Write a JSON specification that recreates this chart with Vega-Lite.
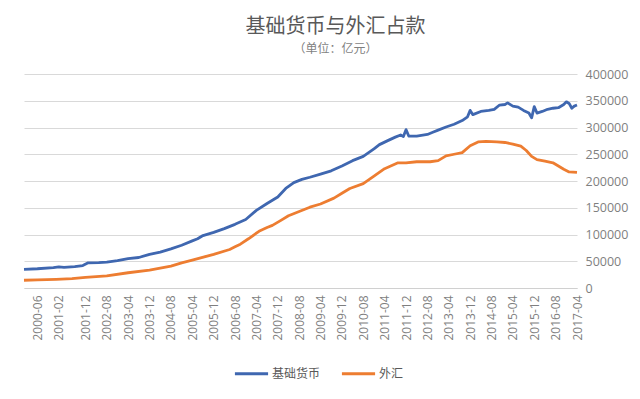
{
  "$schema": "https://vega.github.io/schema/vega-lite/v6.json",
  "autosize": {"type": "none"},
  "width": 553,
  "height": 214,
  "padding": {"left": 24, "top": 74, "right": 63, "bottom": 111},
  "background": "white",
  "title": {
    "text": "基础货币与外汇占款",
    "subtitle": "（单位：亿元）",
    "anchor": "middle",
    "dx": 35,
    "offset": 13,
    "font": "Noto Sans CJK SC",
    "fontSize": 20,
    "fontWeight": "normal",
    "color": "#595959",
    "subtitleFont": "Noto Sans CJK SC",
    "subtitleFontSize": 12,
    "subtitleColor": "#7f7f7f",
    "subtitlePadding": 7
  },
  "data": {
    "values": [
      {"d": "2000-01", "s": "基础货币", "v": 35000},
      {"d": "2000-06", "s": "基础货币", "v": 36000},
      {"d": "2000-12", "s": "基础货币", "v": 38000},
      {"d": "2001-02", "s": "基础货币", "v": 39500},
      {"d": "2001-04", "s": "基础货币", "v": 38500},
      {"d": "2001-08", "s": "基础货币", "v": 40000},
      {"d": "2001-11", "s": "基础货币", "v": 42000},
      {"d": "2002-01", "s": "基础货币", "v": 47000},
      {"d": "2002-05", "s": "基础货币", "v": 47500},
      {"d": "2002-08", "s": "基础货币", "v": 48500},
      {"d": "2002-12", "s": "基础货币", "v": 51000},
      {"d": "2003-04", "s": "基础货币", "v": 55000},
      {"d": "2003-08", "s": "基础货币", "v": 57000},
      {"d": "2003-12", "s": "基础货币", "v": 63000},
      {"d": "2004-04", "s": "基础货币", "v": 67000},
      {"d": "2004-08", "s": "基础货币", "v": 73000},
      {"d": "2004-12", "s": "基础货币", "v": 80000},
      {"d": "2005-04", "s": "基础货币", "v": 88000},
      {"d": "2005-06", "s": "基础货币", "v": 92000},
      {"d": "2005-08", "s": "基础货币", "v": 98000},
      {"d": "2005-12", "s": "基础货币", "v": 104000},
      {"d": "2006-04", "s": "基础货币", "v": 111000},
      {"d": "2006-08", "s": "基础货币", "v": 119000},
      {"d": "2006-12", "s": "基础货币", "v": 128000},
      {"d": "2007-04", "s": "基础货币", "v": 145000},
      {"d": "2007-08", "s": "基础货币", "v": 158000},
      {"d": "2007-12", "s": "基础货币", "v": 170000},
      {"d": "2008-03", "s": "基础货币", "v": 186000},
      {"d": "2008-06", "s": "基础货币", "v": 197000},
      {"d": "2008-09", "s": "基础货币", "v": 203000},
      {"d": "2008-12", "s": "基础货币", "v": 207000},
      {"d": "2009-04", "s": "基础货币", "v": 213000},
      {"d": "2009-08", "s": "基础货币", "v": 219000},
      {"d": "2009-12", "s": "基础货币", "v": 228000},
      {"d": "2010-04", "s": "基础货币", "v": 238000},
      {"d": "2010-08", "s": "基础货币", "v": 246000},
      {"d": "2010-12", "s": "基础货币", "v": 260000},
      {"d": "2011-02", "s": "基础货币", "v": 268000},
      {"d": "2011-05", "s": "基础货币", "v": 275000},
      {"d": "2011-08", "s": "基础货币", "v": 282000},
      {"d": "2011-10", "s": "基础货币", "v": 286000},
      {"d": "2011-11", "s": "基础货币", "v": 283000},
      {"d": "2011-12", "s": "基础货币", "v": 296000},
      {"d": "2012-01", "s": "基础货币", "v": 284000},
      {"d": "2012-04", "s": "基础货币", "v": 284000},
      {"d": "2012-08", "s": "基础货币", "v": 287000},
      {"d": "2012-10", "s": "基础货币", "v": 291000},
      {"d": "2012-12", "s": "基础货币", "v": 295000},
      {"d": "2013-03", "s": "基础货币", "v": 301000},
      {"d": "2013-06", "s": "基础货币", "v": 306000},
      {"d": "2013-09", "s": "基础货币", "v": 313000},
      {"d": "2013-11", "s": "基础货币", "v": 320000},
      {"d": "2013-12", "s": "基础货币", "v": 332000},
      {"d": "2014-01", "s": "基础货币", "v": 324000},
      {"d": "2014-04", "s": "基础货币", "v": 330000},
      {"d": "2014-07", "s": "基础货币", "v": 332000},
      {"d": "2014-09", "s": "基础货币", "v": 334000},
      {"d": "2014-11", "s": "基础货币", "v": 342000},
      {"d": "2015-01", "s": "基础货币", "v": 343000},
      {"d": "2015-02", "s": "基础货币", "v": 346000},
      {"d": "2015-04", "s": "基础货币", "v": 340000},
      {"d": "2015-06", "s": "基础货币", "v": 338000},
      {"d": "2015-08", "s": "基础货币", "v": 332000},
      {"d": "2015-10", "s": "基础货币", "v": 327000},
      {"d": "2015-11", "s": "基础货币", "v": 318000},
      {"d": "2015-12", "s": "基础货币", "v": 339000},
      {"d": "2016-01", "s": "基础货币", "v": 327000},
      {"d": "2016-03", "s": "基础货币", "v": 330000},
      {"d": "2016-05", "s": "基础货币", "v": 334000},
      {"d": "2016-07", "s": "基础货币", "v": 336000},
      {"d": "2016-09", "s": "基础货币", "v": 337000},
      {"d": "2016-11", "s": "基础货币", "v": 343000},
      {"d": "2016-12", "s": "基础货币", "v": 348000},
      {"d": "2017-01", "s": "基础货币", "v": 345000},
      {"d": "2017-02", "s": "基础货币", "v": 336000},
      {"d": "2017-03", "s": "基础货币", "v": 340000},
      {"d": "2017-04", "s": "基础货币", "v": 342000},
      {"d": "2000-01", "s": "外汇", "v": 14500},
      {"d": "2000-06", "s": "外汇", "v": 15000},
      {"d": "2001-01", "s": "外汇", "v": 16000},
      {"d": "2001-07", "s": "外汇", "v": 17500},
      {"d": "2001-12", "s": "外汇", "v": 20000},
      {"d": "2002-08", "s": "外汇", "v": 22500},
      {"d": "2003-04", "s": "外汇", "v": 28500},
      {"d": "2003-12", "s": "外汇", "v": 33500},
      {"d": "2004-08", "s": "外汇", "v": 41000},
      {"d": "2004-12", "s": "外汇", "v": 47000},
      {"d": "2005-04", "s": "外汇", "v": 52000},
      {"d": "2005-12", "s": "外汇", "v": 63000},
      {"d": "2006-06", "s": "外汇", "v": 72000},
      {"d": "2006-08", "s": "外汇", "v": 77000},
      {"d": "2006-10", "s": "外汇", "v": 82000},
      {"d": "2007-01", "s": "外汇", "v": 92000},
      {"d": "2007-05", "s": "外汇", "v": 106000},
      {"d": "2007-08", "s": "外汇", "v": 113000},
      {"d": "2007-10", "s": "外汇", "v": 117000},
      {"d": "2008-01", "s": "外汇", "v": 126000},
      {"d": "2008-04", "s": "外汇", "v": 135000},
      {"d": "2008-08", "s": "外汇", "v": 143000},
      {"d": "2008-12", "s": "外汇", "v": 151000},
      {"d": "2009-04", "s": "外汇", "v": 157000},
      {"d": "2009-09", "s": "外汇", "v": 168000},
      {"d": "2009-12", "s": "外汇", "v": 177000},
      {"d": "2010-03", "s": "外汇", "v": 186000},
      {"d": "2010-08", "s": "外汇", "v": 195000},
      {"d": "2010-12", "s": "外汇", "v": 209000},
      {"d": "2011-04", "s": "外汇", "v": 223000},
      {"d": "2011-09", "s": "外汇", "v": 234000},
      {"d": "2011-12", "s": "外汇", "v": 234000},
      {"d": "2012-04", "s": "外汇", "v": 236000},
      {"d": "2012-09", "s": "外汇", "v": 236000},
      {"d": "2012-12", "s": "外汇", "v": 238000},
      {"d": "2013-03", "s": "外汇", "v": 247000},
      {"d": "2013-06", "s": "外汇", "v": 250000},
      {"d": "2013-09", "s": "外汇", "v": 253000},
      {"d": "2013-12", "s": "外汇", "v": 266000},
      {"d": "2014-03", "s": "外汇", "v": 273000},
      {"d": "2014-06", "s": "外汇", "v": 274000},
      {"d": "2014-10", "s": "外汇", "v": 273000},
      {"d": "2015-01", "s": "外汇", "v": 272000},
      {"d": "2015-04", "s": "外汇", "v": 269000},
      {"d": "2015-07", "s": "外汇", "v": 265000},
      {"d": "2015-09", "s": "外汇", "v": 257000},
      {"d": "2015-11", "s": "外汇", "v": 246000},
      {"d": "2016-01", "s": "外汇", "v": 240000},
      {"d": "2016-04", "s": "外汇", "v": 237000},
      {"d": "2016-07", "s": "外汇", "v": 234000},
      {"d": "2016-09", "s": "外汇", "v": 228000},
      {"d": "2016-11", "s": "外汇", "v": 222000},
      {"d": "2017-01", "s": "外汇", "v": 217000},
      {"d": "2017-04", "s": "外汇", "v": 216000}
    ],
    "format": {"parse": {"d": "utc:'%Y-%m'"}}
  },
  "mark": {"type": "line", "strokeWidth": 2.8, "strokeJoin": "round"},
  "encoding": {
    "x": {
      "field": "d",
      "type": "temporal",
      "scale": {"type": "utc", "domain": [{"year": 2000, "month": 1, "utc": true}, {"year": 2017, "month": 4, "utc": true}]},
      "axis": {
        "title": null,
        "format": "%Y-%m",
        "labelAngle": 270,
        "labelFont": "Open Sans",
        "labelFontSize": 12,
        "labelColor": "#7f7f7f",
        "labelPadding": 7,
        "ticks": false,
        "grid": false,
        "domainColor": "#d0d0d0",
        "labelOverlap": false,
        "values": [
          {"year": 2000, "month": 6, "utc": true}, {"year": 2001, "month": 2, "utc": true}, {"year": 2001, "month": 12, "utc": true},
          {"year": 2002, "month": 8, "utc": true}, {"year": 2003, "month": 4, "utc": true}, {"year": 2003, "month": 12, "utc": true},
          {"year": 2004, "month": 8, "utc": true}, {"year": 2005, "month": 4, "utc": true}, {"year": 2005, "month": 12, "utc": true},
          {"year": 2006, "month": 8, "utc": true}, {"year": 2007, "month": 4, "utc": true}, {"year": 2007, "month": 12, "utc": true},
          {"year": 2008, "month": 8, "utc": true}, {"year": 2009, "month": 4, "utc": true}, {"year": 2009, "month": 12, "utc": true},
          {"year": 2010, "month": 8, "utc": true}, {"year": 2011, "month": 4, "utc": true}, {"year": 2011, "month": 12, "utc": true},
          {"year": 2012, "month": 8, "utc": true}, {"year": 2013, "month": 4, "utc": true}, {"year": 2013, "month": 12, "utc": true},
          {"year": 2014, "month": 8, "utc": true}, {"year": 2015, "month": 4, "utc": true}, {"year": 2015, "month": 12, "utc": true},
          {"year": 2016, "month": 8, "utc": true}, {"year": 2017, "month": 4, "utc": true}
        ]
      }
    },
    "y": {
      "field": "v",
      "type": "quantitative",
      "scale": {"domain": [0, 400000], "nice": false},
      "axis": {
        "title": null,
        "orient": "right",
        "values": [0, 50000, 100000, 150000, 200000, 250000, 300000, 350000, 400000],
        "format": "d",
        "labelFont": "Open Sans",
        "labelFontSize": 12.5,
        "labelColor": "#7f7f7f",
        "labelPadding": 8,
        "ticks": false,
        "domain": false,
        "gridColor": "#d9d9d9"
      }
    },
    "color": {
      "field": "s",
      "type": "nominal",
      "scale": {"domain": ["基础货币", "外汇"], "range": ["#3F67B0", "#ED7D31"]},
      "legend": {
        "title": null,
        "orient": "none",
        "legendX": 209,
        "legendY": 281,
        "direction": "horizontal",
        "symbolType": "stroke",
        "symbolSize": 1100,
        "symbolStrokeWidth": 3,
        "labelFont": "Noto Sans CJK SC",
        "labelFontSize": 12,
        "labelColor": "#595959",
        "labelOffset": 2,
        "columnPadding": 14
      }
    }
  },
  "config": {"view": {"stroke": null}}
}
